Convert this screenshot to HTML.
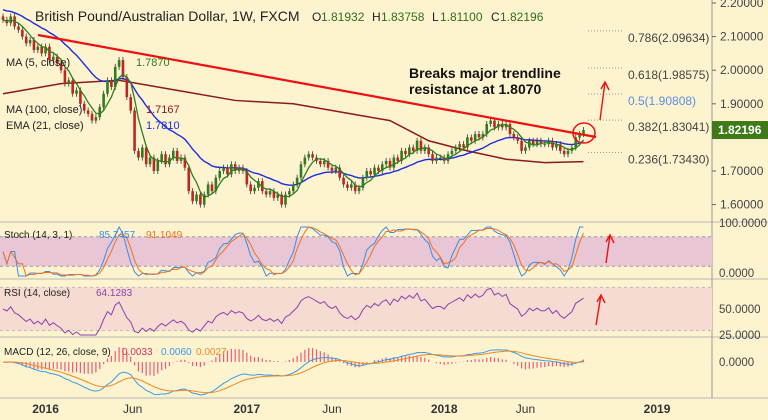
<!DOCTYPE html>
<html><head><meta charset="utf-8"><style>
body{margin:0;background:#fdf3cf;}
svg{display:block;font-family:"Liberation Sans",sans-serif;}
</style></head><body>
<svg id="c" width="768" height="420" viewBox="0 0 768 420">
<rect x="0" y="0" width="768" height="420" fill="#fdf3cf"/>
<g id="grid"></g>
<g id="main"></g>
<g id="osc"></g>
<g id="axes"></g>
<g id="ann"></g>
</svg>
<script>
const closes=[2.15,2.14,2.16,2.13,2.12,2.10,2.08,2.09,2.06,2.07,2.05,2.07,2.03,2.04,2.02,2.00,1.96,1.97,1.93,1.94,
1.90,1.88,1.87,1.85,1.86,1.89,1.93,1.97,1.95,2.01,2.03,1.98,1.92,1.88,1.76,1.74,1.77,1.72,1.74,1.70,1.73,
1.75,1.72,1.74,1.76,1.73,1.74,1.71,1.64,1.61,1.63,1.60,1.63,1.66,1.64,1.68,1.70,1.71,1.69,1.72,1.70,
1.71,1.70,1.66,1.64,1.65,1.67,1.64,1.63,1.64,1.62,1.63,1.60,1.63,1.64,1.66,1.68,1.72,1.74,1.75,1.74,
1.73,1.72,1.73,1.71,1.70,1.71,1.68,1.66,1.65,1.66,1.64,1.65,1.68,1.70,1.69,1.71,1.70,1.72,1.73,1.71,
1.74,1.73,1.76,1.75,1.77,1.76,1.79,1.76,1.77,1.75,1.73,1.74,1.74,1.73,1.75,1.76,1.77,1.78,1.77,1.80,
1.79,1.81,1.80,1.81,1.84,1.85,1.83,1.84,1.83,1.84,1.81,1.80,1.79,1.76,1.77,1.79,1.78,1.79,1.78,1.78,
1.79,1.77,1.78,1.76,1.75,1.76,1.77,1.80,1.81,1.82196];
const ma100Idx=[0,15,30,45,60,75,90,100,110,120,130,140,150];
const ma100Val=[1.93,1.96,1.97,1.94,1.91,1.90,1.87,1.85,1.79,1.76,1.735,1.725,1.728];
const priceTicks=[2.2,2.1,2.0,1.9,1.7,1.6];
const fibLevels=[0.786,0.618,0.5,0.382,0.236];
const fibPrices=[2.09634,1.98575,1.90808,1.83041,1.73430];
const timeLabels=["2016","Jun","2017","Jun","2018","Jun","2019"];
const timeWeeks=[11,33.5,63,85,114,135,169];
const NS="http://www.w3.org/2000/svg";
const svg=document.getElementById('c');
function el(t,a,p){const e=document.createElementNS(NS,t);for(const k in a)e.setAttribute(k,a[k]);(p||svg).appendChild(e);return e;}
const X=i=>3+i*3.87;
const Y=p=>3+(2.2-p)*336;
const G=document.getElementById('main'),O=document.getElementById('osc'),A=document.getElementById('axes'),N=document.getElementById('ann'),GR=document.getElementById('grid');
let e;
e=el('line',{x1:0,y1:222,x2:768,y2:222,stroke:'#b8b8b8'},GR);
e=el('line',{x1:0,y1:279,x2:768,y2:279,stroke:'#b8b8b8'},GR);
e=el('line',{x1:0,y1:337,x2:768,y2:337,stroke:'#b8b8b8'},GR);
e=el('line',{x1:0,y1:398,x2:768,y2:398,stroke:'#b8b8b8'},GR);
e=el('line',{x1:712,y1:0,x2:712,y2:398,stroke:'#9a9a9a'},GR);
const SY=v=>276-v*0.49;
e=el('rect',{x:0,y:SY(80),width:712,height:SY(20)-SY(80),fill:'#e8c6d6'},GR);
[80,20].forEach(v=>{e=el('line',{x1:0,y1:SY(v),x2:712,y2:SY(v),stroke:'#999','stroke-dasharray':'3,3'},GR);});
const RY=v=>309-(v-50)*1.08;
e=el('rect',{x:0,y:RY(70),width:712,height:RY(30)-RY(70),fill:'#f5dbd2'},GR);
[70,30].forEach(v=>{e=el('line',{x1:0,y1:RY(v),x2:712,y2:RY(v),stroke:'#bbb','stroke-dasharray':'3,3'},GR);});
e=el('polyline',{points:ma100Idx.map((i,k)=>X(i)+','+Y(ma100Val[k])).join(' '),fill:'none',stroke:'#8b1a1a','stroke-width':1.5},G);
const ema=[];closes.forEach((c,i)=>ema.push(i?ema[i-1]+(c-ema[i-1])*2/22:c+0.03));
e=el('polyline',{points:ema.map((v,i)=>X(i)+','+Y(v)).join(' '),fill:'none',stroke:'#1a2de0','stroke-width':1.4},G);
closes.forEach((c,i)=>{const o=i?closes[i-1]:c+0.01;const up=c>=o;const col=up?'#2f7d1e':'#c0261f';
const hi=Y(Math.max(o,c))-3,lo=Y(Math.min(o,c))+3;
let w=el('line',{x1:X(i),y1:hi,x2:X(i),y2:lo,stroke:'#333','stroke-width':0.8},G);
let b=el('rect',{x:X(i)-1.3,y:Math.min(Y(o),Y(c)),width:2.6,height:Math.max(1,Math.abs(Y(o)-Y(c))),fill:col},G);});
const ma5=closes.map((c,i)=>{const s=closes.slice(Math.max(0,i-4),i+1);return s.reduce((a,b)=>a+b)/s.length;});
e=el('polyline',{points:ma5.map((v,i)=>X(i)+','+Y(v)).join(' '),fill:'none',stroke:'#2f7d1e','stroke-width':1.3},G);
const kr=closes.map((c,i)=>{const s=closes.slice(Math.max(0,i-13),i+1);const mn=Math.min(...s),mx=Math.max(...s);return mx>mn?(c-mn)/(mx-mn)*100:50;});
const sm=(a,n)=>a.map((v,i)=>{const s=a.slice(Math.max(0,i-n+1),i+1);return s.reduce((x,y)=>x+y)/s.length;});
const K=sm(kr,2),D=sm(kr,4);
e=el('polyline',{points:K.map((v,i)=>X(i)+','+SY(v)).join(' '),fill:'none',stroke:'#3b8de0','stroke-width':1},O);
e=el('polyline',{points:D.map((v,i)=>X(i)+','+SY(v)).join(' '),fill:'none',stroke:'#f07020','stroke-width':1},O);
let ag=0.01,al=0.01;const rsi=closes.map((c,i)=>{if(i){const d=c-closes[i-1];ag=(ag*13+Math.max(d,0))/14;al=(al*13+Math.max(-d,0))/14;}return 100-100/(1+ag/al);});
e=el('polyline',{points:rsi.map((v,i)=>X(i)+','+Math.max(283,Math.min(335,RY(v)))).join(' '),fill:'none',stroke:'#8e3fa8','stroke-width':1},O);
const ema_=(a,n)=>{const r=[];a.forEach((v,i)=>r.push(i?r[i-1]+(v-r[i-1])*2/(n+1):v));return r;};
const e12=ema_(closes,12),e26=ema_(closes,26);const macd=e12.map((v,i)=>v-e26[i]);const sig=ema_(macd,9);
const mx=Math.max(...macd.map(Math.abs));const MY=v=>362-v/mx*33;
macd.forEach((v,i)=>{const h=v-sig[i];let r=el('line',{x1:X(i),y1:362,x2:X(i),y2:362-h/mx*60,stroke:'#ee5a7a','stroke-width':1.2},O);});
e=el('polyline',{points:macd.map((v,i)=>X(i)+','+MY(v)).join(' '),fill:'none',stroke:'#3b9ae8','stroke-width':1},O);
e=el('polyline',{points:sig.map((v,i)=>X(i)+','+MY(v)).join(' '),fill:'none',stroke:'#f08a20','stroke-width':1},O);
priceTicks.forEach(p=>{let t=el('text',{x:720,y:Y(p)+4,'font-size':12,fill:'#444'},A);t.textContent=p.toFixed(5);
let l=el('line',{x1:712,y1:Y(p),x2:716,y2:Y(p),stroke:'#666'},A);});
e=el('rect',{x:712,y:Y(1.82196)-9,width:56,height:18,fill:'#3f7a18'},A);
e=el('text',{x:718,y:Y(1.82196)+4,'font-size':12,'font-weight':'bold',fill:'#fff'},A);e.textContent='1.82196';
[["100.0000",227],["0.0000",277],["50.0000",313],["25.0000",339],["0.0000",366]].forEach(a=>{let t=el('text',{x:719,y:a[1],'font-size':11.5,fill:'#444'},A);t.textContent=a[0];});
timeLabels.forEach((s,k)=>{const bold=s!=="Jun";let t=el('text',{x:X(timeWeeks[k]),y:413,'font-size':12,'font-weight':bold?'bold':'normal',fill:'#333','text-anchor':'middle'},A);t.textContent=s;});
fibLevels.forEach((f,k)=>{const y=Y(fibPrices[k]);let l=el('line',{x1:588,y1:y-7,x2:624,y2:y-7,stroke:'#999','stroke-dasharray':'1,2'},N);
let t=el('text',{x:628,y:y+4,'font-size':12,fill:f===0.5?'#5b8fe0':'#444'},N);t.textContent=f+'('+fibPrices[k].toFixed(5)+')';});
e=el('line',{x1:38,y1:35,x2:596,y2:137,stroke:'#f01010','stroke-width':2.2},N);
e=el('ellipse',{cx:584,cy:133,rx:11,ry:10,fill:'none',stroke:'#f01010','stroke-width':1.5},N);
[[600,120,605,82],[606,263,610,235],[596,325,601,295]].forEach(a=>{let l=el('path',{d:`M${a[0]},${a[1]} L${a[2]},${a[3]} M${a[2]-4},${a[3]+7} L${a[2]},${a[3]} L${a[2]+4},${a[3]+8}`,stroke:'#f01010','stroke-width':1.4,fill:'none'},N);});
e=el('text',{x:409,y:78,'font-size':14,'font-weight':'bold',fill:'#111'},N);e.textContent='Breaks major trendline';
e=el('text',{x:409,y:94,'font-size':14,'font-weight':'bold',fill:'#111'},N);e.textContent='resistance at 1.8070';
function tx(x,y,s,col,sz,name){let t=el('text',{x:x,y:y,'font-size':sz||11,fill:col||'#333'},N);t.textContent=s;return t;}
tx(35,21,'British Pound/Australian Dollar, 1W, FXCM','#222',14,'chart-title');
tx(312,21,'O','#222',12,'ohlc-label');tx(321,21,'1.81932','#2f6e1e',12,'open-value');
tx(372,21,'H','#222',12,'ohlc-label');tx(381,21,'1.83758','#2f6e1e',12,'high-value');
tx(432,21,'L','#222',12,'ohlc-label');tx(440,21,'1.81100','#2f6e1e',12,'low-value');
tx(491,21,'C','#222',12,'ohlc-label');tx(500,21,'1.82196','#2f6e1e',12,'close-value');
tx(6,66,'MA (5, close)','#222',11,'ma5-legend');tx(136,66,'1.7870','#2f7d1e',11,'ma5-value');
tx(6,113,'MA (100, close)','#222',11,'ma100-legend');tx(146,113,'1.7167','#8b1a1a',11,'ma100-value');
tx(6,129,'EMA (21, close)','#222',11,'ema21-legend');tx(146,129,'1.7810','#1a2de0',11,'ema21-value');
tx(4,238,'Stoch (14, 3, 1)','#222',10,'stoch-legend');tx(99,238,'85.7457','#3b8de0',10,'stoch-k-value');tx(146,238,'91.1049','#f07020',10,'stoch-d-value');
tx(4,296,'RSI (14, close)','#222',10,'rsi-legend');tx(96,296,'64.1283','#8e3fa8',10,'rsi-value');
tx(4,355,'MACD (12, 26, close, 9)','#222',10,'macd-legend');tx(122,355,'0.0033','#e0305a',10,'macd-hist-value');tx(161,355,'0.0060','#3b9ae8',10,'macd-value');tx(196,355,'0.0027','#f08a20',10,'macd-signal-value');
</script>
</body></html>
